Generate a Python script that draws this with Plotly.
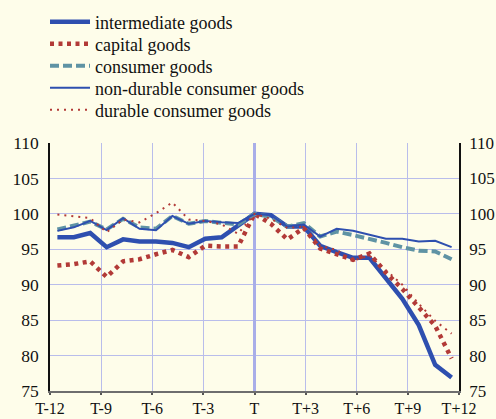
import plotly.graph_objects as go

# ---- data ----
months = list(range(-12, 13))
tick_labels = ["T-12", "T-9", "T-6", "T-3", "T", "T+3", "T+6", "T+9", "T+12"]

intermediate = [96.7, 96.7, 97.3, 95.3, 96.4, 96.1, 96.1, 95.9, 95.3, 96.5, 96.7, 98.4,
                100.0, 99.8, 98.2, 98.2, 95.5, 94.6, 93.8, 93.8, 90.9, 88.0, 84.3, 78.7, 76.9]
capital = [92.7, 92.9, 93.3, 91.1, 93.3, 93.6, 94.3, 94.9, 93.9, 95.5, 95.4, 95.4,
           100.0, 98.6, 96.4, 98.0, 95.1, 94.3, 93.5, 94.4, 91.7, 89.4, 86.7, 84.2, 79.6]
consumer = [97.8, 98.4, 98.9, 97.8, 99.3, 98.1, 97.9, 99.7, 98.6, 99.0, 98.8, 98.5,
            100.0, 99.6, 98.2, 98.7, 96.8, 97.5, 97.0, 96.5, 95.9, 95.3, 94.8, 94.7, 93.6]
nondurable = [97.6, 98.1, 99.0, 97.7, 99.4, 97.9, 97.7, 99.7, 98.6, 99.0, 98.8, 98.7,
              100.0, 99.8, 98.2, 98.5, 96.8, 97.9, 97.6, 97.0, 96.5, 96.5, 96.1, 96.2, 95.3]
durable = [99.9, 99.7, 99.4, 97.4, 99.2, 98.8, 100.1, 101.6, 99.2, 99.0, 98.5, 97.2,
           100.0, 99.3, 98.0, 98.2, 95.5, 94.9, 93.4, 94.1, 92.0, 90.0, 87.3, 84.9, 83.1]
y_ticks = [75, 80, 85, 90, 95, 100, 105, 110]

series_names = ["intermediate goods", "capital goods", "consumer goods",
                "non-durable consumer goods", "durable consumer goods"]

# ---- styling ----
BG = "#FEFDEA"
GRID = "#B9BDEB"
BLUE = "#2E4FAF"
RED = "#B23A37"
TEAL = "#5F93A4"
FONT = "Liberation Serif, Times New Roman, Tinos, DejaVu Serif, serif"
W, H = 496, 419

half = 12.45
tick_pos = [i * half / 4 for i in range(-4, 5)]

styles = [
    dict(color=BLUE, width=4.5),
    dict(color=RED, width=4.5, dash="4px,4.5px"),
    dict(color=TEAL, width=4, dash="9px,4px"),
    dict(color=BLUE, width=2),
    dict(color=RED, width=2, dash="2px,5px"),
]
values = [intermediate, capital, consumer, nondurable, durable]

fig = go.Figure()
legend_keys = ["legend", "legend2", "legend3", "legend4", "legend5"]
for name, vals, st, lg in zip(series_names, values, styles, legend_keys):
    fig.add_trace(go.Scatter(x=months, y=vals, mode="lines", name=name,
                             line=st, legend=lg))
# invisible trace to anchor the right-hand axis
fig.add_trace(go.Scatter(x=months, y=intermediate, mode="lines", yaxis="y2",
                         line=dict(width=0), opacity=0, showlegend=False, hoverinfo="skip"))

legend_centers = [22, 44, 66, 88, 110]  # pixel rows of the legend entries
layout_legends = {}
for lg, cy in zip(legend_keys, legend_centers):
    layout_legends[lg] = dict(
        xref="container", yref="container", x=45 / W, y=1 - cy / H,
        xanchor="left", yanchor="middle", bgcolor="rgba(0,0,0,0)",
        font=dict(family=FONT, size=18, color="#111"), itemwidth=40)

fig.update_layout(
    width=W, height=H,
    margin=dict(l=50, r=37, t=143, b=28, autoexpand=False),
    paper_bgcolor=BG, plot_bgcolor=BG,
    font=dict(family=FONT, size=17, color="#111"),
    showlegend=True,
    **layout_legends,
    xaxis=dict(range=[-half, half], tickvals=tick_pos, ticktext=tick_labels,
               showgrid=True, gridcolor=GRID, gridwidth=1.2,
               zeroline=True, zerolinecolor="#A9AEE8", zerolinewidth=3,
               showline=True, linecolor="#6E6E6E", linewidth=2,
               ticks="outside", ticklen=2, tickcolor="#555", tickwidth=1.5,
               automargin=False,
               tickfont=dict(family=FONT, size=16, color="#111")),
    yaxis=dict(range=[75, 110], tickvals=y_ticks, showgrid=True, gridcolor=GRID, gridwidth=1.2,
               zeroline=False, showline=True, linecolor="#111", linewidth=1.5,
               ticks="", ticklabelstandoff=6, automargin=False,
               tickfont=dict(family=FONT, size=17.5, color="#111")),
    yaxis2=dict(range=[75, 110], tickvals=y_ticks, overlaying="y", side="right",
                showgrid=False, zeroline=False, showline=True, linecolor="#111", linewidth=1.5,
                ticks="", ticklabelstandoff=5, automargin=False,
                tickfont=dict(family=FONT, size=17, color="#111")),
)

fig.write_html(
    "out.html",
    config={"displayModeBar": False},
    post_script="document.body.style.margin='0';document.body.style.background='%s';" % BG,
)
